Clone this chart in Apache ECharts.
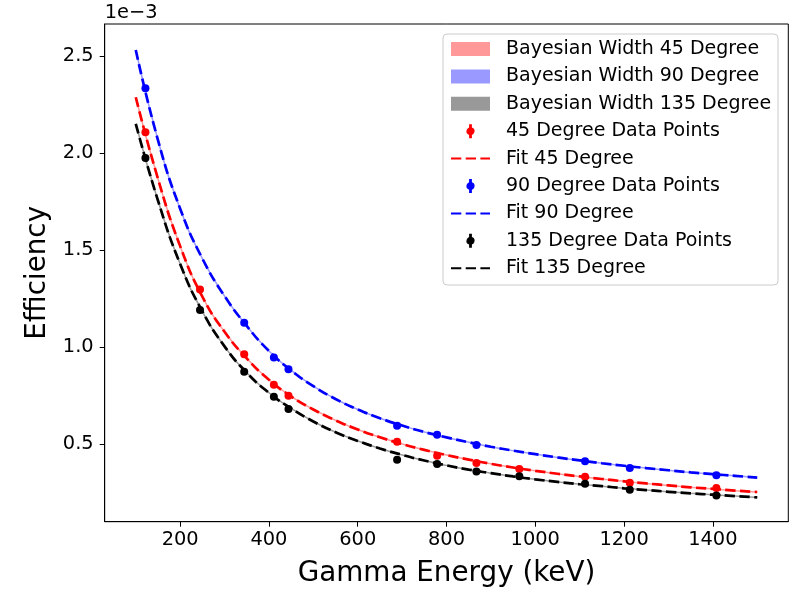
<!DOCTYPE html>
<html>
<head>
<meta charset="utf-8">
<script src="https://cdn.jsdelivr.net/npm/echarts@6/dist/echarts.min.js"></script>
<style>
html, body { margin: 0; padding: 0; background: #fff; }
#main { width: 802px; height: 591px; }
</style>
</head>
<body>
<div id="main"></div>
<script>
// measured points, efficiency in units of 1e-3
var energy45 = [121.8, 244.7, 344.3, 411.1, 444.0, 688.7, 778.9, 867.4, 964.1, 1112.1, 1212.9, 1408.0];
var eff45 = [2.108, 1.298, 0.964, 0.807, 0.750, 0.514, 0.442, 0.404, 0.374, 0.334, 0.303, 0.275];
var energy90 = [121.8, 344.3, 411.1, 444.0, 688.7, 778.9, 867.4, 1112.1, 1212.9, 1408.0];
var eff90 = [2.334, 1.127, 0.947, 0.887, 0.596, 0.550, 0.497, 0.413, 0.379, 0.341];
var energy135 = [121.8, 244.7, 344.3, 411.1, 444.0, 688.7, 778.9, 867.4, 964.1, 1112.1, 1212.9, 1408.0];
var eff135 = [1.975, 1.192, 0.874, 0.745, 0.682, 0.421, 0.399, 0.360, 0.336, 0.297, 0.266, 0.237];

// fit curves, every 50 keV from 100 to 1500
var fitEnergy = [100, 150, 200, 250, 300, 350, 400, 450, 500, 550, 600, 650, 700, 750, 800,
    850, 900, 950, 1000, 1050, 1100, 1150, 1200, 1250, 1300, 1350, 1400, 1450, 1500];
var fit45 = [2.288, 1.868, 1.521, 1.261, 1.080, 0.943, 0.833, 0.747, 0.680, 0.624, 0.577, 0.537, 0.502, 0.472, 0.445,
    0.422, 0.400, 0.381, 0.364, 0.349, 0.335, 0.322, 0.310, 0.299, 0.289, 0.279, 0.271, 0.262, 0.255];
var fit90 = [2.531, 2.067, 1.714, 1.457, 1.264, 1.110, 0.981, 0.881, 0.800, 0.734, 0.680, 0.635, 0.597, 0.564, 0.536,
    0.511, 0.488, 0.468, 0.450, 0.433, 0.418, 0.403, 0.390, 0.378, 0.367, 0.356, 0.347, 0.338, 0.329];
var fit135 = [2.151, 1.756, 1.429, 1.185, 1.005, 0.869, 0.766, 0.685, 0.618, 0.563, 0.518, 0.479, 0.446, 0.417, 0.392,
    0.370, 0.352, 0.335, 0.320, 0.307, 0.295, 0.285, 0.274, 0.265, 0.256, 0.248, 0.241, 0.234, 0.227];

var xTicks = [200, 400, 600, 800, 1000, 1200, 1400];
var yTicks = [0.5, 1.0, 1.5, 2.0, 2.5];

var FONT = 'DejaVu Sans';

function pairs(xs, ys) {
    var out = [];
    for (var i = 0; i < xs.length; i++) {
        out.push([xs[i], ys[i]]);
    }
    return out;
}

// errorbar style legend marker (bar + dot)
var errIcon = 'path://M2.6,0 L5.4,0 L5.4,3.25 A4,4 0 0,1 5.4,10.75 L5.4,14 L2.6,14 L2.6,10.75 A4,4 0 0,1 2.6,3.25 Z';

function band(name, data, color) {
    return {
        name: name,
        type: 'line',
        data: data,
        smooth: true,
        symbol: 'none',
        z: 1,
        itemStyle: { color: color },
        lineStyle: { color: color, width: 1.5 }
    };
}

function fit(name, data, color) {
    return {
        name: name,
        type: 'line',
        data: data,
        smooth: true,
        symbol: 'none',
        z: 3,
        itemStyle: { color: color },
        lineStyle: { color: color, width: 2.7, type: [10.3, 4.4] }
    };
}

function points(name, data, color) {
    return {
        name: name,
        type: 'scatter',
        data: data,
        symbol: 'circle',
        symbolSize: 8,
        z: 4,
        itemStyle: { color: color, opacity: 1 }
    };
}

var myChart = echarts.init(document.getElementById('main'));

var option = {
    animation: false,
    backgroundColor: '#fff',
    textStyle: { fontFamily: FONT },
    grid: {
        left: 104.7,
        right: 13.7,
        top: 24,
        bottom: 69.3,
        containLabel: false,
        outerBoundsMode: 'none',
        show: true,
        borderColor: '#000',
        borderWidth: 1
    },
    xAxis: {
        type: 'value',
        min: 30,
        max: 1570,
        name: 'Gamma Energy (keV)',
        nameLocation: 'middle',
        nameGap: 38,
        nameTextStyle: { fontSize: 27.8, color: '#000', fontFamily: FONT },
        axisLine: { onZero: false, lineStyle: { color: '#000', width: 1 } },
        axisTick: { customValues: xTicks, length: 5, lineStyle: { color: '#000' } },
        axisLabel: {
            customValues: xTicks,
            margin: 9,
            fontSize: 19.4,
            color: '#000',
            fontFamily: FONT,
            formatter: function (v) { return String(v); }
        },
        splitLine: { show: false }
    },
    yAxis: {
        type: 'value',
        min: 0.102,
        max: 2.665,
        name: 'Efficiency',
        nameLocation: 'middle',
        nameGap: 50,
        nameTextStyle: { fontSize: 27.8, color: '#000', fontFamily: FONT },
        axisLine: { show: true, onZero: false, lineStyle: { color: '#000', width: 1 } },
        axisTick: { show: true, customValues: yTicks, length: 5, lineStyle: { color: '#000' } },
        axisLabel: {
            customValues: yTicks,
            margin: 11,
            fontSize: 19.4,
            color: '#000',
            fontFamily: FONT,
            padding: [3, 0, 0, 0],
            formatter: function (v) { return v.toFixed(1); }
        },
        splitLine: { show: false }
    },
    legend: {
        orient: 'vertical',
        left: 450,
        top: 39.5,
        padding: 0,
        itemWidth: 39,
        itemHeight: 14,
        itemGap: 8.4,
        textStyle: {
            fontSize: 19,
            lineHeight: 19,
            color: '#000',
            fontFamily: FONT,
            padding: [0, 0, 0, 11]
        },
        data: [
            { name: 'Bayesian Width 45 Degree', icon: 'rect', itemStyle: { color: '#ff9999', borderWidth: 0 } },
            { name: 'Bayesian Width 90 Degree', icon: 'rect', itemStyle: { color: '#9999ff', borderWidth: 0 } },
            { name: 'Bayesian Width 135 Degree', icon: 'rect', itemStyle: { color: '#999999', borderWidth: 0 } },
            { name: '45 Degree Data Points', icon: errIcon },
            { name: 'Fit 45 Degree', itemStyle: { opacity: 0 } },
            { name: '90 Degree Data Points', icon: errIcon },
            { name: 'Fit 90 Degree', itemStyle: { opacity: 0 } },
            { name: '135 Degree Data Points', icon: errIcon },
            { name: 'Fit 135 Degree', itemStyle: { opacity: 0 } }
        ]
    },
    graphic: [
        {
            type: 'rect',
            shape: { x: 443, y: 34, width: 335, height: 251, r: 4 },
            style: { fill: 'rgba(255,255,255,0.8)', stroke: '#cccccc', lineWidth: 1 },
            z: 3
        },
        {
            type: 'text',
            x: 104.7,
            y: 13,
            style: {
                text: '1e\u22123',
                fontSize: 19.4,
                fontFamily: FONT,
                fill: '#000',
                verticalAlign: 'middle'
            }
        }
    ],
    series: [
        band('Bayesian Width 45 Degree', pairs(fitEnergy, fit45), '#ff9999'),
        band('Bayesian Width 90 Degree', pairs(fitEnergy, fit90), '#9999ff'),
        band('Bayesian Width 135 Degree', pairs(fitEnergy, fit135), '#999999'),
        points('45 Degree Data Points', pairs(energy45, eff45), '#ff0000'),
        fit('Fit 45 Degree', pairs(fitEnergy, fit45), '#ff0000'),
        points('90 Degree Data Points', pairs(energy90, eff90), '#0000ff'),
        fit('Fit 90 Degree', pairs(fitEnergy, fit90), '#0000ff'),
        points('135 Degree Data Points', pairs(energy135, eff135), '#000000'),
        fit('Fit 135 Degree', pairs(fitEnergy, fit135), '#000000')
    ]
};

myChart.setOption(option, true);
</script>
</body>
</html>
